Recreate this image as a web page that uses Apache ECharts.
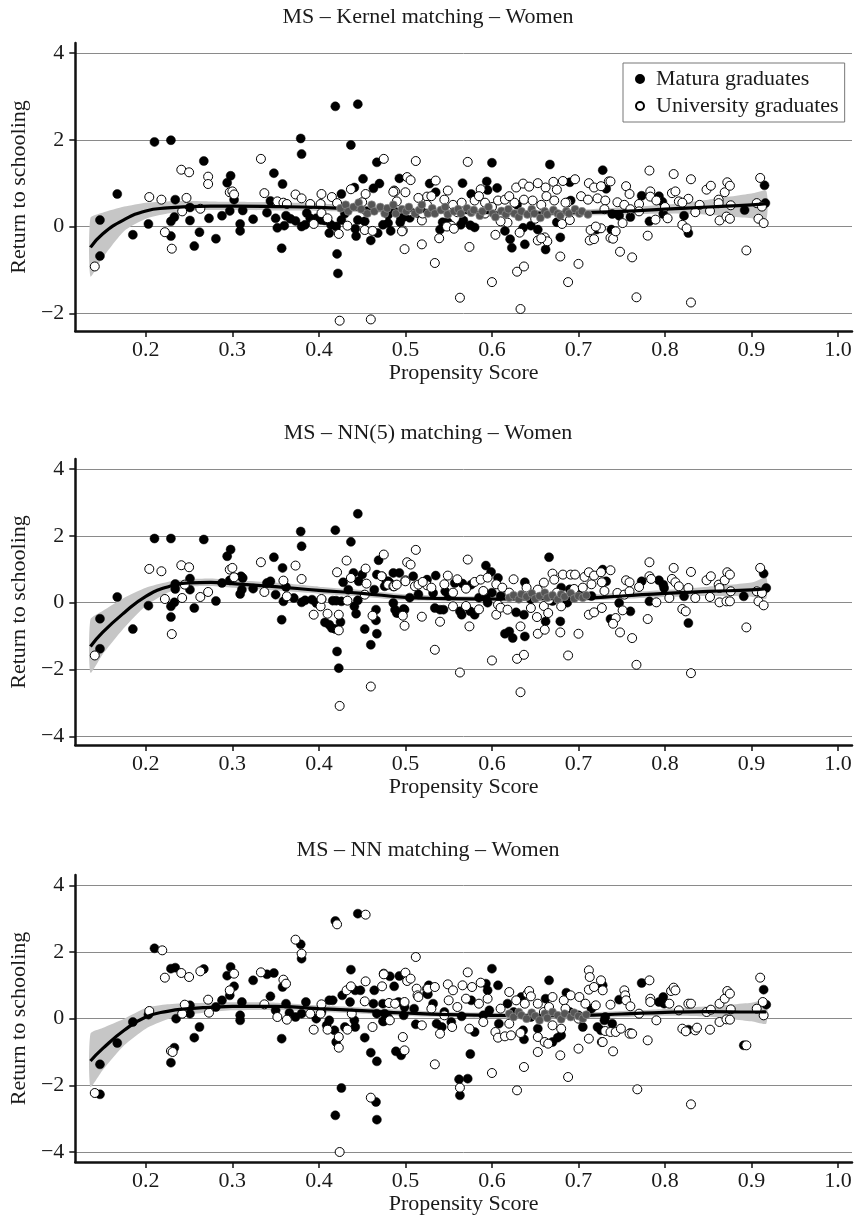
<!DOCTYPE html>
<html><head><meta charset="utf-8">
<script src="https://cdn.jsdelivr.net/npm/echarts@6/dist/echarts.min.js"></script>
<style>html,body{margin:0;padding:0;background:#fff}#c{width:856px;height:1220px}</style>
</head><body><div id="c"></div>
<script>
// ---------- DATA ----------
const panelTitles = ['MS \u2013 Kernel matching \u2013 Women', 'MS \u2013 NN(5) matching \u2013 Women', 'MS \u2013 NN matching \u2013 Women'];
const seriesNames = ['Matura graduates', 'University graduates'];
const xTitle = 'Propensity Score';
const yTitle = 'Return to schooling';
const xTicks = [0.2, 0.3, 0.4, 0.5, 0.6, 0.7, 0.8, 0.9, 1.0];
const yTicksTop = [-2, 0, 2, 4];
const yTicksLower = [-4, -2, 0, 2, 4];

// smoothed fit and confidence band, sampled at these propensity scores
const fitX = [0.136, 0.15, 0.175, 0.2, 0.225, 0.25, 0.275, 0.3, 0.35, 0.4, 0.45, 0.5, 0.55, 0.6, 0.65, 0.7, 0.75, 0.8, 0.85, 0.9, 0.917];
const fitKernel = [-0.48, -0.17, 0.16, 0.36, 0.43, 0.46, 0.47, 0.47, 0.46, 0.44, 0.40, 0.37, 0.34, 0.32, 0.31, 0.32, 0.35, 0.40, 0.45, 0.50, 0.53];
const loKernel  = [-1.15, -0.72, -0.10, 0.18, 0.30, 0.36, 0.38, 0.38, 0.37, 0.36, 0.33, 0.30, 0.28, 0.26, 0.25, 0.25, 0.27, 0.30, 0.27, 0.19, 0.15];
const hiKernel  = [0.20, 0.32, 0.46, 0.55, 0.58, 0.59, 0.58, 0.57, 0.56, 0.53, 0.48, 0.44, 0.41, 0.39, 0.38, 0.39, 0.44, 0.50, 0.62, 0.76, 0.82];
const fitNN5 = [-1.31, -0.89, -0.30, 0.19, 0.47, 0.59, 0.61, 0.57, 0.48, 0.37, 0.28, 0.16, 0.12, 0.11, 0.12, 0.13, 0.20, 0.28, 0.34, 0.38, 0.42];
const loNN5  = [-2.10, -1.55, -0.75, -0.10, 0.30, 0.48, 0.50, 0.45, 0.37, 0.27, 0.18, 0.07, 0.04, 0.03, 0.04, 0.05, 0.11, 0.17, 0.20, 0.18, 0.12];
const hiNN5  = [-0.50, -0.25, 0.15, 0.45, 0.62, 0.70, 0.72, 0.68, 0.60, 0.48, 0.38, 0.25, 0.20, 0.19, 0.20, 0.22, 0.30, 0.38, 0.48, 0.60, 0.75];
const fitNN = [-1.27, -0.90, -0.35, 0.05, 0.22, 0.30, 0.34, 0.37, 0.37, 0.30, 0.24, 0.17, 0.12, 0.10, 0.09, 0.10, 0.14, 0.19, 0.21, 0.20, 0.20];
const loNN  = [-2.05, -1.55, -0.80, -0.30, -0.02, 0.12, 0.20, 0.25, 0.26, 0.20, 0.15, 0.08, 0.04, 0.02, 0.01, 0.02, 0.05, 0.09, 0.06, -0.08, -0.15];
const hiNN  = [-0.45, -0.28, 0.00, 0.32, 0.43, 0.47, 0.48, 0.49, 0.48, 0.40, 0.33, 0.26, 0.20, 0.18, 0.17, 0.18, 0.23, 0.29, 0.37, 0.48, 0.55];

// Panel 1: Kernel matching
const kernelMatura = [[0.147,0.15],[0.147,-0.68],[0.167,0.75],[0.185,-0.19],[0.203,0.06],[0.21,1.95],[0.229,1.99],[0.229,0.12],[0.229,-0.22],[0.233,0.22],[0.234,0.62],[0.251,0.44],[0.251,0.14],[0.256,-0.45],[0.262,-0.13],[0.267,1.51],[0.273,0.19],[0.281,-0.28],[0.288,0.25],[0.294,1.01],[0.298,1.17],[0.297,0.36],[0.302,0.62],[0.309,0.06],[0.309,-0.1],[0.312,0.37],[0.324,0.17],[0.34,0.32],[0.344,0.59],[0.348,1.23],[0.35,0.19],[0.352,-0.03],[0.357,-0.5],[0.358,0.98],[0.36,0.02],[0.362,0.25],[0.367,0.18],[0.373,0.13],[0.379,2.03],[0.38,1.67],[0.38,0.0],[0.384,0.04],[0.386,0.31],[0.39,0.19],[0.397,0.19],[0.403,0.15],[0.407,0.14],[0.412,-0.15],[0.414,0.04],[0.419,2.77],[0.42,0.0],[0.421,-0.63],[0.422,-1.08],[0.426,0.15],[0.426,0.75],[0.43,0.3],[0.437,1.88],[0.441,0.9],[0.443,-0.22],[0.442,-0.05],[0.445,2.82],[0.445,0.15],[0.451,1.1],[0.453,0.12],[0.455,0.35],[0.46,-0.32],[0.463,0.88],[0.467,1.48],[0.468,-0.15],[0.47,0.99],[0.474,0.04],[0.48,0.08],[0.48,0.27],[0.483,-0.1],[0.486,0.38],[0.493,1.11],[0.494,0.1],[0.495,0.19],[0.498,0.22],[0.505,0.2],[0.515,0.3],[0.528,0.99],[0.535,0.79],[0.54,-0.07],[0.543,0.1],[0.549,0.1],[0.564,0.04],[0.567,0.14],[0.575,0.03],[0.58,-0.02],[0.566,1.0],[0.576,0.75],[0.594,1.04],[0.595,0.84],[0.6,1.47],[0.606,0.89],[0.615,-0.1],[0.621,-0.29],[0.623,-0.49],[0.629,0.5],[0.636,-0.03],[0.638,-0.41],[0.645,0.02],[0.653,-0.07],[0.662,-0.53],[0.667,1.43],[0.675,0.1],[0.679,-0.25],[0.69,1.02],[0.691,0.6],[0.721,-0.07],[0.728,1.3],[0.732,0.87],[0.738,-0.07],[0.739,0.29],[0.747,0.25],[0.76,0.22],[0.773,0.71],[0.782,0.12],[0.793,0.7],[0.797,0.57],[0.798,0.29],[0.822,0.25],[0.827,-0.15],[0.892,0.38],[0.915,0.95],[0.916,0.54]];
const kernelUniv = [[0.141,-0.92],[0.204,0.68],[0.218,0.62],[0.222,-0.13],[0.23,-0.51],[0.241,1.31],[0.25,1.25],[0.247,0.66],[0.242,0.35],[0.263,0.41],[0.272,1.15],[0.272,0.98],[0.297,0.79],[0.3,0.81],[0.302,0.74],[0.333,1.56],[0.337,0.77],[0.352,0.58],[0.359,0.55],[0.363,0.52],[0.373,0.74],[0.38,0.65],[0.39,0.52],[0.394,0.06],[0.402,0.52],[0.403,0.75],[0.403,0.31],[0.41,0.19],[0.415,0.68],[0.421,0.54],[0.423,-0.17],[0.424,-2.17],[0.433,0.02],[0.437,0.86],[0.45,0.56],[0.453,-0.08],[0.454,0.75],[0.46,-2.14],[0.462,-0.1],[0.475,1.56],[0.487,0.83],[0.49,0.58],[0.497,-0.09],[0.499,-0.52],[0.5,0.79],[0.502,1.14],[0.506,1.07],[0.512,1.51],[0.519,-0.41],[0.519,0.14],[0.525,0.69],[0.488,0.81],[0.535,1.06],[0.549,0.83],[0.496,-0.11],[0.539,-0.27],[0.534,-0.84],[0.553,0.02],[0.572,1.49],[0.574,-0.47],[0.563,-1.64],[0.587,0.86],[0.6,-1.28],[0.604,-0.19],[0.618,0.09],[0.629,-1.04],[0.637,-0.92],[0.633,-1.9],[0.628,0.9],[0.636,0.99],[0.643,0.92],[0.653,1.0],[0.662,0.9],[0.671,1.03],[0.682,1.05],[0.696,1.09],[0.712,1.0],[0.718,0.9],[0.726,0.93],[0.632,-0.14],[0.653,-0.32],[0.661,-0.25],[0.664,-0.34],[0.679,-0.69],[0.681,0.06],[0.688,-1.28],[0.7,-0.86],[0.713,-0.32],[0.718,-0.29],[0.714,-0.08],[0.726,-0.04],[0.737,-0.26],[0.735,1.04],[0.607,0.6],[0.615,0.62],[0.626,0.55],[0.637,0.62],[0.647,0.6],[0.657,0.5],[0.672,0.6],[0.687,0.55],[0.703,0.7],[0.711,0.62],[0.722,0.65],[0.731,0.6],[0.486,0.8],[0.515,0.66],[0.525,0.5],[0.545,0.62],[0.555,0.5],[0.565,0.55],[0.58,0.6],[0.592,0.55],[0.548,0.0],[0.556,-0.05],[0.52,0.3],[0.505,0.35],[0.53,0.7],[0.56,0.33],[0.585,0.7],[0.592,0.3],[0.6,0.45],[0.61,0.12],[0.62,0.7],[0.65,0.18],[0.657,-0.27],[0.663,0.7],[0.675,0.85],[0.685,0.55],[0.69,0.15],[0.72,0.0],[0.73,0.4],[0.737,1.04],[0.782,1.29],[0.81,1.21],[0.83,1.09],[0.755,0.93],[0.759,0.75],[0.745,0.56],[0.753,0.5],[0.77,0.52],[0.783,0.81],[0.783,0.69],[0.808,0.77],[0.812,0.81],[0.816,0.58],[0.827,0.64],[0.789,0.16],[0.803,0.19],[0.82,0.04],[0.825,-0.04],[0.78,-0.21],[0.74,-0.28],[0.743,-0.11],[0.751,0.08],[0.748,-0.58],[0.762,-0.71],[0.767,-1.63],[0.83,-1.75],[0.894,-0.55],[0.835,0.33],[0.848,0.85],[0.853,0.94],[0.862,0.62],[0.862,0.54],[0.869,0.79],[0.872,1.02],[0.875,0.94],[0.863,0.14],[0.871,0.23],[0.875,0.18],[0.852,0.36],[0.876,0.49],[0.906,0.54],[0.91,1.12],[0.908,0.18],[0.914,0.08],[0.912,0.46],[0.8,0.45],[0.79,0.6],[0.77,0.35],[0.76,0.4],[0.84,0.5],[0.82,0.55]];
const kernelGray = [[0.425,0.42],[0.431,0.5],[0.434,0.35],[0.44,0.45],[0.446,0.55],[0.449,0.4],[0.456,0.3],[0.461,0.5],[0.464,0.35],[0.471,0.45],[0.476,0.3],[0.479,0.42],[0.486,0.5],[0.489,0.3],[0.496,0.4],[0.501,0.35],[0.504,0.45],[0.511,0.3],[0.516,0.38],[0.519,0.5],[0.526,0.3],[0.531,0.42],[0.534,0.3],[0.541,0.38],[0.546,0.45],[0.549,0.28],[0.556,0.35],[0.561,0.4],[0.564,0.3],[0.571,0.42],[0.576,0.32],[0.579,0.38],[0.586,0.25],[0.589,0.35],[0.596,0.45],[0.601,0.3],[0.604,0.22],[0.611,0.36],[0.616,0.28],[0.619,0.4],[0.626,0.3],[0.631,0.22],[0.634,0.35],[0.641,0.28],[0.646,0.4],[0.649,0.3],[0.656,0.2],[0.661,0.35],[0.664,0.28],[0.671,0.38],[0.676,0.3],[0.679,0.25],[0.686,0.35],[0.689,0.3],[0.696,0.4],[0.701,0.3],[0.704,0.35],[0.711,0.28]];

// Panel 2: NN(5) matching
const nn5Matura = [[0.147,-0.48],[0.147,-1.38],[0.167,0.17],[0.185,-0.79],[0.203,-0.09],[0.21,1.92],[0.229,1.92],[0.229,-0.11],[0.229,-0.43],[0.233,0.01],[0.234,0.56],[0.234,0.41],[0.251,0.72],[0.251,0.39],[0.256,-0.16],[0.267,1.89],[0.281,0.05],[0.288,0.59],[0.294,1.39],[0.298,1.59],[0.297,0.67],[0.309,0.26],[0.311,0.39],[0.312,0.74],[0.31,0.79],[0.324,0.42],[0.34,0.59],[0.344,0.64],[0.348,1.36],[0.35,0.24],[0.357,-0.51],[0.358,1.04],[0.359,0.04],[0.362,0.47],[0.371,0.14],[0.379,2.13],[0.38,1.69],[0.38,0.01],[0.384,0.07],[0.392,0.09],[0.397,-0.01],[0.403,0.09],[0.407,-0.59],[0.412,-0.66],[0.415,-0.76],[0.419,-0.79],[0.419,2.17],[0.416,0.06],[0.42,0.06],[0.421,-1.46],[0.423,-1.96],[0.425,-0.58],[0.426,0.04],[0.428,0.61],[0.434,0.39],[0.437,1.82],[0.44,0.89],[0.441,-0.11],[0.443,-0.33],[0.445,2.66],[0.445,0.07],[0.446,0.64],[0.45,0.84],[0.453,-0.79],[0.46,-1.26],[0.464,0.39],[0.466,-0.21],[0.466,-0.53],[0.467,-0.93],[0.469,1.27],[0.467,0.84],[0.473,0.79],[0.476,0.49],[0.478,0.64],[0.48,0.64],[0.482,0.59],[0.486,0.89],[0.493,0.89],[0.486,-0.01],[0.488,-0.21],[0.49,-0.31],[0.492,-0.31],[0.498,-0.19],[0.499,-0.21],[0.505,0.15],[0.509,0.79],[0.515,0.25],[0.525,0.69],[0.535,0.81],[0.532,0.29],[0.546,0.34],[0.534,-0.16],[0.54,-0.21],[0.544,-0.21],[0.55,0.2],[0.557,0.59],[0.566,0.57],[0.576,0.54],[0.563,-0.26],[0.565,-0.36],[0.575,-0.26],[0.58,-0.36],[0.585,0.15],[0.593,1.11],[0.599,0.92],[0.607,0.74],[0.593,0.14],[0.595,0.0],[0.6,0.3],[0.61,0.2],[0.615,-0.93],[0.62,-0.86],[0.624,-1.06],[0.628,-0.29],[0.638,0.61],[0.638,-1.01],[0.637,-0.36],[0.645,0.1],[0.653,0.29],[0.662,-0.56],[0.666,1.36],[0.67,0.05],[0.679,-0.56],[0.68,0.45],[0.687,0.0],[0.69,0.4],[0.7,0.25],[0.715,0.2],[0.728,0.99],[0.732,0.64],[0.737,-0.49],[0.747,-0.01],[0.76,-0.26],[0.773,0.64],[0.782,0.04],[0.793,0.67],[0.798,0.54],[0.799,0.44],[0.822,0.19],[0.827,-0.61],[0.891,0.19],[0.914,0.87],[0.917,0.44]];
const nn5Univ = [[0.141,-1.58],[0.204,1.01],[0.218,0.94],[0.222,0.11],[0.23,-0.94],[0.241,1.12],[0.25,1.06],[0.242,0.14],[0.245,0.54],[0.263,0.17],[0.272,0.32],[0.297,0.99],[0.3,1.04],[0.302,0.76],[0.333,1.21],[0.337,0.32],[0.359,0.66],[0.363,0.19],[0.373,1.11],[0.38,0.71],[0.394,-0.36],[0.402,-0.11],[0.403,0.11],[0.41,-0.33],[0.421,0.91],[0.423,-0.83],[0.423,-0.36],[0.424,-3.09],[0.432,1.26],[0.433,0.06],[0.437,0.74],[0.453,0.24],[0.454,1.02],[0.455,0.57],[0.46,-2.51],[0.462,-0.39],[0.4725,0.79],[0.475,1.44],[0.48,0.54],[0.486,0.49],[0.487,0.49],[0.49,0.54],[0.497,-0.39],[0.499,-0.69],[0.5,0.67],[0.5,0.64],[0.502,1.21],[0.506,1.14],[0.511,0.49],[0.512,1.58],[0.519,-0.42],[0.515,0.54],[0.525,0.52],[0.52,0.62],[0.53,0.45],[0.54,-0.57],[0.534,-1.41],[0.545,0.55],[0.549,0.81],[0.555,-0.11],[0.555,0.3],[0.56,0.7],[0.57,0.42],[0.572,1.29],[0.574,-0.71],[0.563,-2.09],[0.57,-0.1],[0.58,0.62],[0.585,-0.2],[0.587,0.69],[0.59,0.35],[0.595,0.75],[0.6,-1.73],[0.605,-0.36],[0.605,0.55],[0.607,-0.06],[0.61,-0.15],[0.612,0.45],[0.618,-0.21],[0.62,0.3],[0.625,0.7],[0.629,-1.68],[0.637,-1.56],[0.633,-2.68],[0.633,-0.71],[0.64,0.45],[0.645,-0.16],[0.65,0.15],[0.653,-0.93],[0.661,-0.81],[0.652,-0.43],[0.653,0.39],[0.66,0.6],[0.66,-0.1],[0.665,-0.31],[0.666,0.09],[0.67,0.87],[0.672,0.69],[0.675,0.3],[0.679,-0.89],[0.68,-0.11],[0.682,0.84],[0.688,-1.58],[0.69,0.2],[0.691,0.84],[0.695,0.41],[0.696,0.84],[0.7,-0.93],[0.705,0.45],[0.707,0.77],[0.712,0.91],[0.712,-0.36],[0.715,0.55],[0.718,0.81],[0.718,-0.29],[0.726,0.91],[0.727,0.61],[0.727,-0.16],[0.73,0.35],[0.737,0.97],[0.782,1.21],[0.81,1.04],[0.83,0.92],[0.755,0.67],[0.759,0.61],[0.745,0.29],[0.753,0.24],[0.759,0.34],[0.77,0.47],[0.782,0.79],[0.784,0.71],[0.808,0.71],[0.812,0.61],[0.816,0.49],[0.827,0.44],[0.79,0.01],[0.805,0.14],[0.82,-0.19],[0.824,-0.26],[0.78,-0.49],[0.743,-0.46],[0.74,-0.63],[0.751,-0.23],[0.748,-0.89],[0.762,-1.06],[0.767,-1.86],[0.83,-2.11],[0.894,-0.74],[0.835,0.14],[0.848,0.67],[0.853,0.79],[0.862,0.54],[0.863,0.44],[0.869,0.67],[0.872,0.91],[0.875,0.84],[0.863,0.01],[0.871,0.04],[0.875,0.04],[0.852,0.17],[0.876,0.34],[0.906,0.34],[0.91,1.04],[0.908,0.04],[0.914,-0.08],[0.912,0.29]];
const nn5Gray = [[0.62,0.15],[0.625,0.22],[0.631,0.1],[0.634,0.25],[0.64,0.18],[0.646,0.28],[0.65,0.12],[0.655,0.2],[0.661,0.3],[0.664,0.15],[0.67,0.22],[0.676,0.1],[0.68,0.25],[0.684,0.18],[0.691,0.28],[0.695,0.12],[0.7,0.2],[0.705,0.15],[0.709,0.22]];

// Panel 3: NN matching
const nnMatura = [[0.147,-1.37],[0.147,-2.27],[0.167,-0.73],[0.185,-0.1],[0.203,0.12],[0.21,2.11],[0.229,-1.32],[0.233,-0.87],[0.229,1.5],[0.234,1.53],[0.235,0.0],[0.251,0.4],[0.251,0.15],[0.256,-0.57],[0.262,-0.25],[0.267,1.49],[0.281,0.35],[0.288,0.55],[0.294,1.29],[0.298,1.55],[0.297,0.7],[0.302,0.97],[0.309,0.1],[0.309,-0.05],[0.311,0.5],[0.324,1.15],[0.34,1.33],[0.348,1.37],[0.344,0.67],[0.35,0.25],[0.357,-0.6],[0.358,0.95],[0.362,0.45],[0.366,0.17],[0.373,0.05],[0.379,2.23],[0.38,1.8],[0.38,0.15],[0.385,0.5],[0.397,0.0],[0.403,0.2],[0.409,-0.2],[0.412,0.55],[0.416,0.55],[0.412,-0.05],[0.418,-0.35],[0.42,-0.7],[0.419,2.93],[0.419,-2.9],[0.426,-2.08],[0.427,0.7],[0.43,-0.25],[0.437,1.47],[0.436,0.5],[0.442,-0.25],[0.441,-0.05],[0.445,3.15],[0.442,0.85],[0.448,0.85],[0.453,-0.57],[0.46,-1.02],[0.464,0.85],[0.463,0.45],[0.466,-2.5],[0.467,-1.28],[0.467,-3.03],[0.467,0.15],[0.474,0.45],[0.474,-0.08],[0.476,0.15],[0.475,-0.08],[0.48,0.03],[0.482,1.27],[0.487,0.97],[0.489,-0.98],[0.493,1.28],[0.495,-1.1],[0.492,0.5],[0.498,0.1],[0.499,0.35],[0.51,0.3],[0.512,-0.17],[0.525,0.75],[0.527,1.0],[0.526,0.73],[0.532,0.45],[0.536,-0.15],[0.542,-0.25],[0.545,0.2],[0.553,-0.1],[0.565,0.07],[0.562,-1.82],[0.572,-1.8],[0.563,-2.3],[0.575,-1.06],[0.576,0.55],[0.58,-0.4],[0.59,0.1],[0.593,1.05],[0.595,0.85],[0.607,1.0],[0.6,1.5],[0.597,0.25],[0.608,-0.15],[0.618,0.45],[0.625,0.2],[0.634,0.65],[0.637,-0.62],[0.636,-0.35],[0.645,0.05],[0.653,-0.3],[0.662,0.6],[0.666,1.15],[0.67,-0.7],[0.676,-0.57],[0.68,-0.5],[0.686,0.78],[0.69,0.2],[0.7,0.1],[0.705,-0.25],[0.715,0.3],[0.722,-0.25],[0.726,-0.35],[0.731,0.05],[0.728,1.0],[0.73,-0.05],[0.739,-0.15],[0.747,0.57],[0.76,-0.43],[0.773,1.07],[0.793,0.5],[0.798,0.65],[0.799,0.45],[0.827,-0.33],[0.891,-0.8],[0.914,0.87],[0.917,0.42]];
const nnUniv = [[0.141,-2.23],[0.204,0.23],[0.219,2.05],[0.222,1.23],[0.229,-0.97],[0.231,-1.0],[0.241,1.37],[0.25,1.25],[0.245,0.42],[0.242,0.15],[0.263,1.42],[0.272,0.57],[0.273,0.18],[0.297,0.85],[0.302,1.35],[0.333,1.39],[0.337,0.43],[0.352,0.05],[0.359,1.17],[0.362,1.05],[0.363,-0.03],[0.373,2.37],[0.38,1.95],[0.39,0.15],[0.394,-0.33],[0.402,0.15],[0.403,0.43],[0.41,-0.33],[0.421,2.83],[0.423,-0.55],[0.423,-0.87],[0.424,-4.0],[0.433,-0.33],[0.432,0.85],[0.437,0.97],[0.438,0.15],[0.454,3.12],[0.454,1.12],[0.453,0.52],[0.46,-2.37],[0.462,-0.25],[0.475,1.35],[0.475,1.33],[0.473,0.97],[0.481,0.47],[0.482,-0.05],[0.488,0.45],[0.497,-0.55],[0.499,-0.95],[0.5,1.38],[0.502,1.13],[0.506,1.2],[0.499,0.5],[0.512,1.85],[0.513,0.9],[0.514,0.7],[0.515,0.65],[0.519,-0.2],[0.525,0.9],[0.526,0.9],[0.53,0.3],[0.534,0.95],[0.534,-1.37],[0.54,-0.45],[0.545,0.1],[0.549,1.03],[0.55,0.55],[0.554,-0.25],[0.555,0.85],[0.56,0.35],[0.563,-2.07],[0.566,1.0],[0.57,0.6],[0.572,1.39],[0.574,-0.3],[0.577,0.95],[0.585,0.45],[0.587,1.08],[0.59,-0.1],[0.595,0.6],[0.6,-1.63],[0.604,-0.4],[0.607,-0.57],[0.61,0.3],[0.615,-0.53],[0.62,0.8],[0.62,-0.15],[0.622,-0.5],[0.628,0.55],[0.629,-2.15],[0.633,-0.43],[0.637,-1.45],[0.638,0.45],[0.641,0.75],[0.643,0.83],[0.645,0.67],[0.653,-1.0],[0.653,-0.55],[0.653,0.45],[0.66,0.2],[0.661,-0.7],[0.665,-0.75],[0.666,0.35],[0.67,0.65],[0.67,-0.2],[0.679,-1.1],[0.68,-0.3],[0.683,0.55],[0.685,0.3],[0.688,-1.75],[0.691,0.7],[0.7,-0.9],[0.7,0.0],[0.701,0.65],[0.708,0.45],[0.712,-0.6],[0.712,1.45],[0.712,0.87],[0.713,1.25],[0.718,0.95],[0.72,0.4],[0.726,1.15],[0.727,-0.7],[0.728,0.85],[0.728,-0.7],[0.731,-0.37],[0.737,0.42],[0.737,-0.4],[0.74,-0.98],[0.743,-0.4],[0.749,-0.3],[0.753,0.85],[0.754,0.7],[0.755,0.55],[0.759,-0.45],[0.76,0.37],[0.762,-0.45],[0.768,-2.12],[0.77,0.15],[0.78,-0.65],[0.782,1.15],[0.783,0.6],[0.783,0.5],[0.79,-0.05],[0.805,0.45],[0.807,0.83],[0.81,0.93],[0.812,0.85],[0.816,0.25],[0.82,-0.3],[0.824,-0.38],[0.827,0.45],[0.83,0.45],[0.83,-2.57],[0.835,-0.35],[0.837,-0.27],[0.848,0.2],[0.852,-0.33],[0.853,0.27],[0.863,0.45],[0.863,-0.1],[0.869,0.6],[0.871,-0.02],[0.872,0.83],[0.875,0.75],[0.875,-0.03],[0.876,0.28],[0.894,-0.8],[0.906,0.3],[0.91,1.23],[0.913,0.5],[0.914,0.1]];
const nnGray = [[0.62,0.15],[0.625,0.05],[0.631,0.2],[0.634,0.1],[0.64,0.0],[0.646,0.18],[0.65,0.08],[0.655,-0.05],[0.661,0.15],[0.664,0.02],[0.67,0.2],[0.676,0.1],[0.68,-0.02],[0.684,0.15],[0.691,0.05],[0.695,0.18],[0.7,0.08],[0.705,0.0],[0.709,0.12]];

// ---------- CHART ----------
const FONT = 'Liberation Serif';
const TXT = '#1a1a1a';
const panels = [
  {title: panelTitles[0], m: kernelMatura, u: kernelUniv, g: kernelGray, fit: fitKernel, lo: loKernel, hi: hiKernel, yMin: -2.407, yMax: 4.23, yTicks: yTicksTop, top: 43, height: 288, titleTop: 6},
  {title: panelTitles[1], m: nn5Matura, u: nn5Univ, g: nn5Gray, fit: fitNN5, lo: loNN5, hi: hiNN5, yMin: -4.26, yMax: 4.3, yTicks: yTicksLower, top: 459, height: 286, titleTop: 422},
  {title: panelTitles[2], m: nnMatura, u: nnUniv, g: nnGray, fit: fitNN, lo: loNN, hi: hiNN, yMin: -4.30, yMax: 4.31, yTicks: yTicksLower, top: 875, height: 287, titleTop: 839}
];
const zip = (xs, ys) => xs.map((x, i) => [x, ys[i]]);
const fmtY = v => (v < 0 ? '\u2212' + Math.abs(v) : String(v));

const option = {
  animation: false,
  backgroundColor: '#fff',
  title: panels.map(p => ({text: p.title, left: 'center', top: p.titleTop, padding: 0,
    textStyle: {fontFamily: FONT, fontSize: 22, fontWeight: 'normal', color: TXT, lineHeight: 22}})),
  legend: {
    data: seriesNames, left: 623, top: 63, orient: 'vertical', icon: 'circle',
    itemWidth: 8, itemHeight: 8, itemGap: 5, padding: [5, 6, 5, 12],
    borderColor: '#777', borderWidth: 1, backgroundColor: '#fff',
    textStyle: {fontFamily: FONT, fontSize: 22, color: TXT, lineHeight: 22, padding: [0, 0, 0, 7]}
  },
  grid: panels.map(p => ({left: 73, top: p.top, width: 779, height: p.height, containLabel: false})),
  xAxis: panels.map((p, i) => ({
    type: 'value', gridIndex: i, min: 0.1185, max: 1.0161,
    name: xTitle, nameLocation: 'middle', nameGap: 30,
    nameTextStyle: {fontFamily: FONT, fontSize: 22, color: TXT},
    axisLine: {onZero: false, lineStyle: {color: '#111', width: 2.5}},
    axisTick: {show: true, length: 6, customValues: xTicks, lineStyle: {color: '#111', width: 1.5}},
    axisLabel: {customValues: xTicks, margin: 8, formatter: v => v.toFixed(1),
      fontFamily: FONT, fontSize: 22, color: TXT},
    splitLine: {show: false}
  })),
  yAxis: panels.map((p, i) => ({
    type: 'value', gridIndex: i, min: p.yMin, max: p.yMax,
    name: yTitle, nameLocation: 'middle', nameGap: 35,
    nameTextStyle: {fontFamily: FONT, fontSize: 22, color: TXT},
    axisLine: {onZero: false, lineStyle: {color: '#111', width: 2.5}},
    axisTick: {show: true, length: 6, customValues: p.yTicks, lineStyle: {color: '#111', width: 1.5}},
    axisLabel: {customValues: p.yTicks, margin: 11, formatter: fmtY,
      fontFamily: FONT, fontSize: 22, color: TXT},
    splitLine: {show: false}
  })),
  series: []
};

panels.forEach((p, i) => {
  const bandData = fitX.map((x, k) => [x, p.lo[k], p.hi[k]]);
  option.series.push(
    {type: 'custom', xAxisIndex: i, yAxisIndex: i, data: bandData, silent: true, z: 1,
     encode: {x: 0, y: [1, 2]},
     renderItem: (params, api) => {
       if (params.dataIndex !== 0) return null;
       const upper = bandData.map(d => api.coord([d[0], d[2]]));
       const lower = bandData.map(d => api.coord([d[0], d[1]])).reverse();
       return {type: 'polygon', shape: {points: upper.concat(lower), smooth: 0.2},
         style: {fill: '#c6c6c6', stroke: null}};
     },
     markLine: {silent: true, symbol: ['none', 'none'], label: {show: false}, z: 0,
       lineStyle: {color: '#8a8a8a', width: 1, type: 'solid'},
       data: p.yTicks.map(v => ({yAxis: v}))}},
    {name: seriesNames[0], type: 'scatter', xAxisIndex: i, yAxisIndex: i, data: p.m, symbol: 'circle', symbolSize: 9,
     itemStyle: {color: '#000', borderColor: '#000', borderWidth: 0.5, opacity: 1}, z: 3},
    {name: seriesNames[1], type: 'scatter', xAxisIndex: i, yAxisIndex: i, data: p.u, symbol: 'circle', symbolSize: 9,
     itemStyle: {color: '#fff', borderColor: '#000', borderWidth: 1, opacity: 1}, z: 4},
    {type: 'line', xAxisIndex: i, yAxisIndex: i, data: zip(fitX, p.fit), smooth: true, symbol: 'none',
     lineStyle: {color: '#000', width: 3.2}, silent: true, z: 5},
    {type: 'scatter', xAxisIndex: i, yAxisIndex: i, data: p.g, symbol: 'circle', symbolSize: 8,
     itemStyle: {color: '#555', borderColor: '#999', borderWidth: 0.6, opacity: 1}, silent: true, z: 6}
  );
});

const chart = echarts.init(document.getElementById('c'), null, {renderer: 'canvas'});
chart.setOption(option);
</script>
</body></html>
